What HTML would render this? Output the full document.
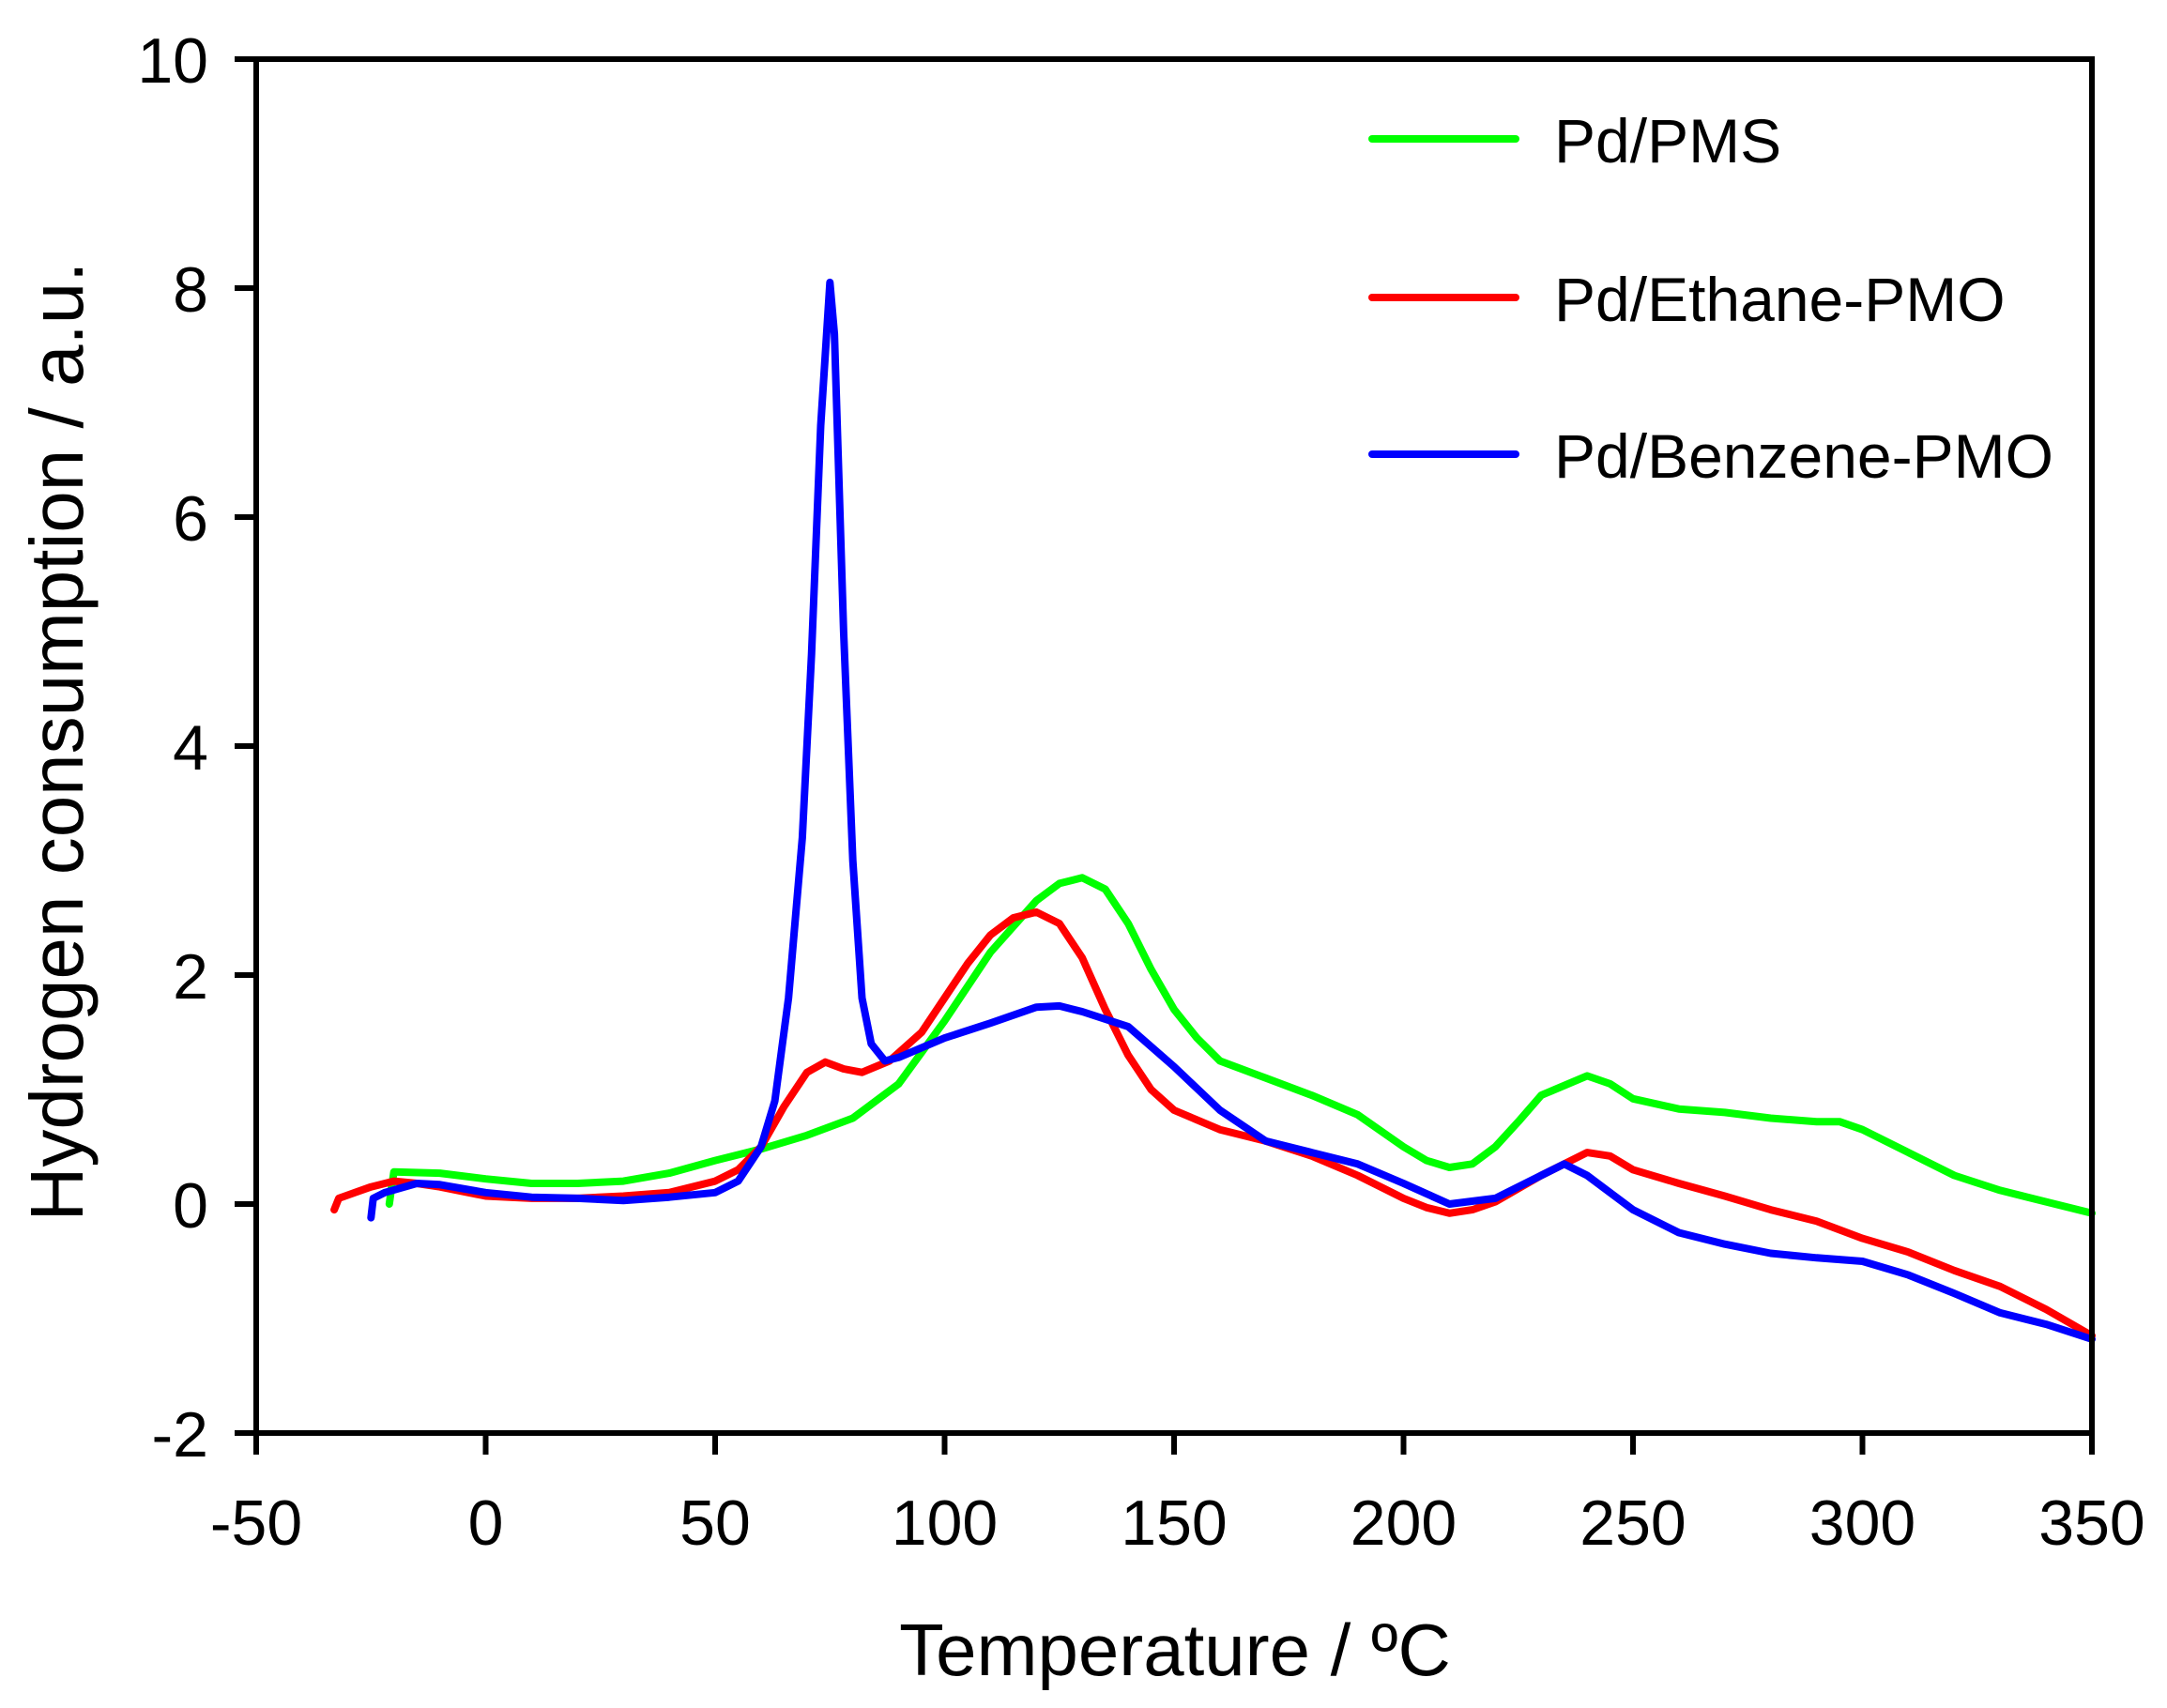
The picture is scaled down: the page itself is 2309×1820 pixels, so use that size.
<!DOCTYPE html>
<html><head><meta charset="utf-8"><style>
html,body{margin:0;padding:0;background:#fff;}
svg{display:block;font-family:"Liberation Sans",Arial,sans-serif;}
</style></head><body>
<svg id="chart" width="2309" height="1820" viewBox="0 0 2309 1820" xmlns="http://www.w3.org/2000/svg">
<g id="series"></g>
<g id="axes"></g>
<text x="1252" y="1785" font-size="78" text-anchor="middle">Temperature / ºC</text>
<text transform="translate(88,790) rotate(-90)" font-size="80" text-anchor="middle">Hydrogen consumption / a.u.</text>
<g id="legend"></g>
</svg>
<script>
const xTicks=[-50,0,50,100,150,200,250,300,350];
const yTicks=[-2,0,2,4,6,8,10];
const seriesNames=["Pd/PMS","Pd/Ethane-PMO","Pd/Benzene-PMO"];
const seriesColors=["#00ff00","#ff0000","#0000ff"];
const pmsX=[-21,-20.5,-20,-10,0,10,20,30,40,50,60,70,80,90,100,110,120,125,130,135,140,145,150,155,160,170,180,190,200,205,210,215,220,225,230,240,245,250,260,270,280,290,295,300,310,320,330,340,350];
const pmsY=[0.0,0.15,0.28,0.27,0.22,0.18,0.18,0.2,0.27,0.38,0.48,0.6,0.75,1.05,1.6,2.2,2.65,2.8,2.85,2.75,2.45,2.05,1.7,1.45,1.25,1.1,0.95,0.78,0.5,0.38,0.32,0.35,0.5,0.72,0.95,1.12,1.05,0.92,0.83,0.8,0.75,0.72,0.72,0.65,0.45,0.25,0.12,0.02,-0.08];
const ethX=[-33,-32,-25,-20,-15,-10,0,10,20,30,40,50,55,60,65,70,74,78,82,88,95,100,105,110,115,120,125,130,135,140,145,150,160,170,180,190,200,205,210,215,220,230,240,245,250,260,270,280,290,300,310,320,330,340,350];
const ethY=[-0.05,0.05,0.15,0.2,0.18,0.15,0.07,0.05,0.05,0.07,0.1,0.2,0.3,0.5,0.85,1.15,1.24,1.18,1.15,1.25,1.5,1.8,2.1,2.35,2.5,2.55,2.45,2.15,1.7,1.3,1.0,0.82,0.65,0.55,0.42,0.25,0.05,-0.03,-0.08,-0.05,0.02,0.25,0.45,0.42,0.3,0.18,0.07,-0.05,-0.15,-0.3,-0.42,-0.58,-0.72,-0.92,-1.15];
const benX=[-25,-24.5,-22,-15,-10,0,10,20,30,40,50,55,60,63,66,69,71,73,75,76,78,80,82,84,87,90,100,110,120,125,130,140,150,160,170,180,190,200,210,220,230,235,240,250,260,270,280,290,300,310,320,330,340,350];
const benY=[-0.12,0.05,0.1,0.18,0.17,0.1,0.06,0.05,0.03,0.06,0.1,0.2,0.5,0.9,1.8,3.2,4.8,6.8,8.05,7.6,5.0,3.0,1.8,1.4,1.25,1.28,1.45,1.58,1.72,1.73,1.68,1.55,1.2,0.82,0.55,0.45,0.35,0.18,0.0,0.05,0.25,0.35,0.25,-0.05,-0.25,-0.35,-0.43,-0.47,-0.5,-0.62,-0.78,-0.95,-1.05,-1.18];

const L=273,R=2229,T=63,B=1527;
const xMin=-50,xMax=350,yMin=-2,yMax=10;
function sx(v){return L+(v-xMin)/(xMax-xMin)*(R-L);}
function sy(v){return B-(v-yMin)/(yMax-yMin)*(B-T);}
const NS="http://www.w3.org/2000/svg";
function mk(tag,parent,attrs){const e=document.createElementNS(NS,tag);for(const k in attrs)e.setAttribute(k,attrs[k]);parent.appendChild(e);return e;}

const sg=document.getElementById('series');
const allX=[pmsX,ethX,benX],allY=[pmsY,ethY,benY];
const sNames=['series-pd-pms','series-pd-ethane-pmo','series-pd-benzene-pmo'];
for(let s=0;s<3;s++){
  let d='';
  for(let i=0;i<allX[s].length;i++){d+=(i?'L':'M')+sx(allX[s][i]).toFixed(1)+' '+sy(allY[s][i]).toFixed(1);}
  const p=mk('path',sg,{d:d,fill:'none',stroke:seriesColors[s],'stroke-width':8,'stroke-linejoin':'round','stroke-linecap':'round'});
  
  
}

const ax=document.getElementById('axes');
const frame=mk('rect',ax,{x:L,y:T,width:R-L,height:B-T,fill:'none',stroke:'#000','stroke-width':6});


xTicks.forEach(v=>{
  const t=mk('line',ax,{x1:sx(v),x2:sx(v),y1:B,y2:B+23,stroke:'#000','stroke-width':6});
  
  
  const lb=mk('text',ax,{x:sx(v),y:1646,'font-size':68,'text-anchor':'middle'});
  lb.textContent=v;
  
  
});
yTicks.forEach(v=>{
  const t=mk('line',ax,{x1:L-23,x2:L,y1:sy(v),y2:sy(v),stroke:'#000','stroke-width':6});
  
  
  const lb=mk('text',ax,{x:222,y:sy(v)+25,'font-size':68,'text-anchor':'end'});
  lb.textContent=v;
  
  
});

const lg=document.getElementById('legend');
const legY=[148,317,484];
for(let s=0;s<3;s++){
  const ln=mk('line',lg,{x1:1462,x2:1615,y1:legY[s],y2:legY[s],stroke:seriesColors[s],'stroke-width':8,'stroke-linecap':'round'});
  
  
  const tx=mk('text',lg,{x:1656,y:legY[s]+25,'font-size':66});
  tx.textContent=seriesNames[s];
  
  
}
</script>
</body></html>
